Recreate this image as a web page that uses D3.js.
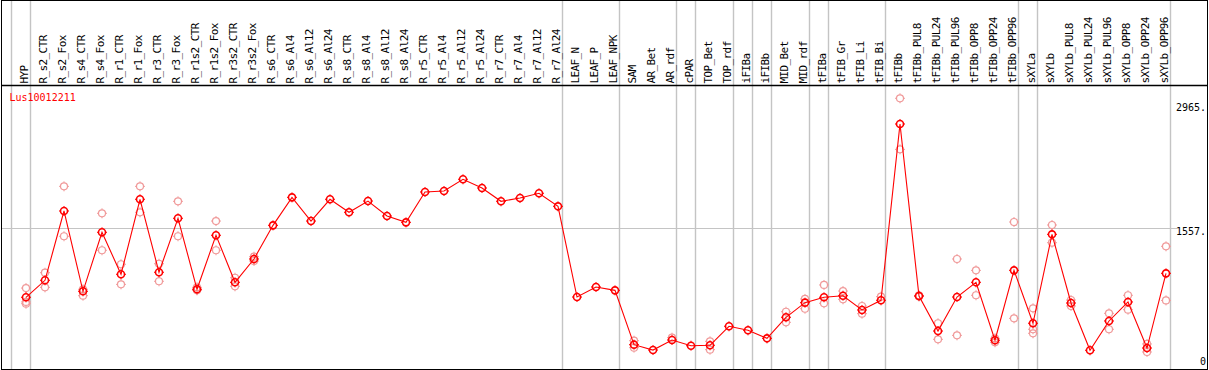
<!DOCTYPE html>
<html>
<head>
<meta charset="utf-8">
<script src="https://cdn.jsdelivr.net/npm/d3@7"></script>
<style>
  html, body { margin: 0; padding: 0; background: #fff; }
  svg { display: block; }
  text { font-family: "DejaVu Sans Mono", monospace; }
</style>
</head>
<body>
<div id="chart"></div>
<script>
'use strict';

var geneId = 'Lus10012211';

var categories = [
  'HYP',
  'R_s2_CTR', 'R_s2_Fox', 'R_s4_CTR', 'R_s4_Fox', 'R_r1_CTR', 'R_r1_Fox', 'R_r3_CTR', 'R_r3_Fox',
  'R_r1s2_CTR', 'R_r1s2_Fox', 'R_r3s2_CTR', 'R_r3s2_Fox',
  'R_s6_CTR', 'R_s6_Al4', 'R_s6_Al12', 'R_s6_Al24', 'R_s8_CTR', 'R_s8_Al4', 'R_s8_Al12', 'R_s8_Al24',
  'R_r5_CTR', 'R_r5_Al4', 'R_r5_Al12', 'R_r5_Al24', 'R_r7_CTR', 'R_r7_Al4', 'R_r7_Al12', 'R_r7_Al24',
  'LEAF_N', 'LEAF_P', 'LEAF_NPK',
  'SAM', 'AR_Bet', 'AR_rdf',
  'cPAR',
  'TOP_Bet', 'TOP_rdf',
  'iFIBa',
  'iFIBb',
  'MID_Bet', 'MID_rdf',
  'tFIBa',
  'tFIB_Gr', 'tFIB_Li', 'tFIB_Bi',
  'tFIBb', 'tFIBb_PUL8', 'tFIBb_PUL24', 'tFIBb_PUL96', 'tFIBb_OPP8', 'tFIBb_OPP24', 'tFIBb_OPP96',
  'sXYLa',
  'sXYLb', 'sXYLb_PUL8', 'sXYLb_PUL24', 'sXYLb_PUL96', 'sXYLb_OPP8', 'sXYLb_OPP24', 'sXYLb_OPP96'
];

// first category of each sample group (separators drawn before these)
var groupStarts = ['HYP', 'R_s2_CTR', 'LEAF_N', 'SAM', 'cPAR', 'TOP_Bet', 'iFIBa', 'iFIBb',
  'MID_Bet', 'tFIBa', 'tFIB_Gr', 'tFIBb', 'sXYLa', 'sXYLb'];

var means = [
  770,
  963, 1750, 838, 1508, 1031, 1883, 1054, 1667,
  861, 1474, 940, 1205,
  1587, 1905, 1636, 1883, 1735, 1863, 1693, 1621,
  1966, 1977, 2110, 2011, 1860, 1897, 1951, 1803,
  773, 887, 849,
  232, 171, 285,
  220,
  225, 441,
  395,
  304,
  543, 709,
  770,
  788, 626, 736,
  2738, 785, 387, 773, 940, 282, 1076,
  475,
  1485, 705, 168, 501, 717, 194, 1042
];

var replicates = [
  [875, 717, 697],
  [1049, 883], [2030, 1463], [861, 788], [1724, 1304], [1145, 917], [2030, 1735], [1151, 952], [1860, 1463],
  [883, 849], [1636, 1304], [992, 895], [1231, 1182],
  [], [], [], [], [], [], [], [],
  [], [], [], [], [], [], [], [],
  [], [], [],
  [277, 198], [], [311],
  [],
  [270, 175], [],
  [],
  [],
  [606, 486], [751, 640],
  [910, 702],
  [841, 747], [671, 584], [777],
  [3030, 2450], [792, 778], [475, 293], [1205, 338], [1076, 793], [304, 259], [1625, 531],
  [645, 407, 361],
  [1591, 1390], [739, 671], [], [588, 407], [793, 629], [240, 149], [1349, 735]
];

var yTicks = [0, 1557, 2965];
var gridValues = [1557];

var W = 1209, H = 370;
var frame = { left: 1.5, right: 1207.5, top: 0.5, bottom: 369.5, header: 85.5 };
var plot = { left: 11.5, right: 1170.5 };
var markOffset = 14.5;

var x = d3.scaleBand().domain(categories).range([plot.left, plot.right]).padding(0);
var y = d3.scaleLinear().domain([0, 2965]).range([365.1, 104]);

function px(c) { return x(c) + markOffset; }

var svg = d3.select('#chart').append('svg')
  .attr('width', W)
  .attr('height', H);

svg.append('rect').attr('width', W).attr('height', H).attr('fill', '#fff');

// ─── grid ────────────────────────────────────────────────────────────────────

var seps = groupStarts.map(function (c) { return x(c); }).concat([plot.right]);
svg.append('g').selectAll('line').data(seps).enter().append('line')
  .attr('x1', function (d) { return d; })
  .attr('x2', function (d) { return d; })
  .attr('y1', frame.top)
  .attr('y2', frame.bottom)
  .attr('stroke', '#c4c4c4')
  .attr('stroke-width', 1.4);

svg.append('g').selectAll('line').data(gridValues).enter().append('line')
  .attr('x1', frame.left)
  .attr('x2', 1177)
  .attr('y1', function (d) { return Math.round(y(d)) + 0.5; })
  .attr('y2', function (d) { return Math.round(y(d)) + 0.5; })
  .attr('stroke', '#c4c4c4')
  .attr('stroke-width', 1.2);

// frame + header divider
svg.append('rect')
  .attr('x', frame.left).attr('y', frame.top)
  .attr('width', frame.right - frame.left).attr('height', frame.bottom - frame.top)
  .attr('fill', 'none').attr('stroke', '#000').attr('stroke-width', 1);
svg.append('line')
  .attr('x1', frame.left).attr('x2', frame.right)
  .attr('y1', frame.header).attr('y2', frame.header)
  .attr('stroke', '#000').attr('stroke-width', 1.3);

// ─── labels ──────────────────────────────────────────────────────────────────

svg.append('g').selectAll('text').data(categories).enter().append('text')
  .attr('transform', function (d) { return 'translate(' + (px(d) + 2) + ',83.5) rotate(-90)'; })
  .attr('font-size', 11)
  .attr('letter-spacing', -0.6)
  .attr('fill', '#000')
  .text(function (d) { return d; });

svg.append('text')
  .attr('x', 9.5).attr('y', 101)
  .attr('font-size', 10)
  .attr('fill', '#f00')
  .text(geneId);

svg.append('g').selectAll('text').data(yTicks).enter().append('text')
  .attr('x', 1206)
  .attr('y', function (d) { return Math.min(y(d) + 7.4, 365.3); })
  .attr('text-anchor', 'end')
  .attr('font-size', 10)
  .attr('fill', '#000')
  .text(function (d) { return d === 0 ? '0' : d + '.'; });

// ─── marks ───────────────────────────────────────────────────────────────────

function marker(g, cx, cy, color, width) {
  g.append('circle')
    .attr('cx', cx).attr('cy', cy).attr('r', 3.5)
    .attr('fill', 'none').attr('stroke', color).attr('stroke-width', width);
  [[0, -1], [0, 1], [-1, 0], [1, 0]].forEach(function (v) {
    g.append('line')
      .attr('x1', cx + v[0] * 3.5).attr('y1', cy + v[1] * 3.5)
      .attr('x2', cx + v[0] * 5).attr('y2', cy + v[1] * 5)
      .attr('stroke', color).attr('stroke-width', 1);
  });
}

var repG = svg.append('g');
categories.forEach(function (c, i) {
  replicates[i].forEach(function (v) {
    marker(repG, px(c), y(v), '#f09a9a', 1.2);
  });
});

var line = d3.line()
  .x(function (d, i) { return px(categories[i]); })
  .y(function (d) { return y(d); });

svg.append('path')
  .datum(means)
  .attr('d', line)
  .attr('fill', 'none')
  .attr('stroke', '#f00')
  .attr('stroke-width', 1.1);

var meanG = svg.append('g');
categories.forEach(function (c, i) {
  marker(meanG, px(c), y(means[i]), '#f00', 1.6);
});
</script>
</body>
</html>
